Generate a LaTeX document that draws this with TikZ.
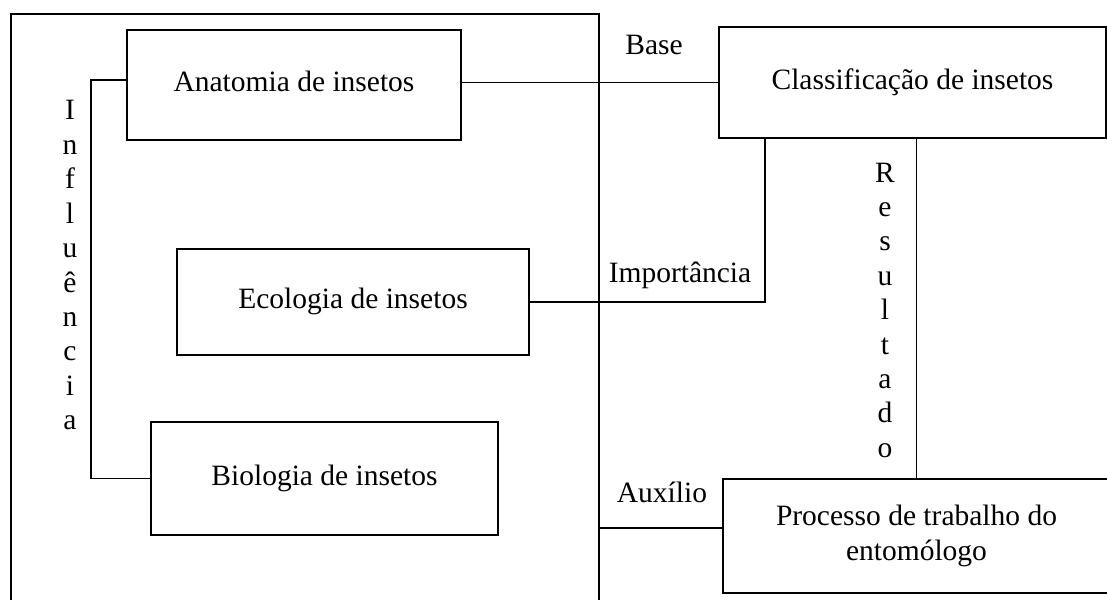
\documentclass[tikz,border=0pt]{standalone}
\usepackage{fontspec}
\setmainfont{Liberation Serif}
\usetikzlibrary{positioning}
\newcommand{\fontediag}{\fontsize{29.5}{34.4}\selectfont}
\tikzset{
  basic/.style  = {draw, rectangle, line width=1.8pt, font=\fontediag, inner sep=0pt},
  tema/.style   = {basic, text height=20.6pt, text depth=7.4pt},
  quadro/.style = {draw, rectangle, line width=2.2pt, inner sep=0pt},
  rotulo/.style = {font=\fontediag, inner sep=0pt, anchor=base},
  liga/.style   = {draw, line width=1.8pt}
}

\begin{document}
\begin{tikzpicture}[x=1pt, y=-1pt]
\useasboundingbox (0,0) rectangle (1107,599);

% outer frame, runs off the bottom of the page
\node[quadro, anchor=north west, minimum width=588pt, minimum height=640pt] (area) at (10,13) {};

% the themes inside the frame
\node[tema, minimum width=334pt, minimum height=110pt] (anat) at (294,85) {Anatomia de insetos};
\node[tema, minimum width=352pt, minimum height=106pt] (eco) at (353,302) {Ecologia de insetos};
\node[tema, minimum width=347pt, minimum height=113pt] (bio) at (324.5,478.5) {Biologia de insetos};

% the themes on the right
\node[tema, minimum width=387pt, minimum height=111pt] (class) at (912.5,82.5) {Classificação de insetos};
\node[basic, align=center, minimum width=387pt, minimum height=114pt] (proc) at (916.5,536)
  {Processo de trabalho do\\entomólogo};

% connectors
\draw[liga] ([yshift=5pt]anat.west) -- ++(-35,0) |- (bio.west);
\draw[liga] (anat.east |- class.west) -- (class.west);
\draw[liga] (eco.east) -| ([xshift=-147.5pt]class.south);
\draw[liga] (proc.north) -- (proc.north |- class.south);
\draw[liga] ([yshift=8pt]proc.west) -- ([yshift=8pt]proc.west -| area.east);

% connector labels
\node[rotulo] (base) at (654,55) {Base};
\node[rotulo] (imp) at (680,282) {Importância};
\node[rotulo] (aux) at (662,502) {Auxílio};

% vertical words, one letter per line
\foreach \car [count=\i] in {I,n,f,l,u,ê,n,c,i,a}
  \node[rotulo] (infl\i) at (70,{120+34.4*(\i-1)}) {\car};
\foreach \car [count=\i] in {R,e,s,u,l,t,a,d,o}
  \node[rotulo] (res\i) at (885,{182+34.4*(\i-1)}) {\car};
\end{tikzpicture}
\end{document}
